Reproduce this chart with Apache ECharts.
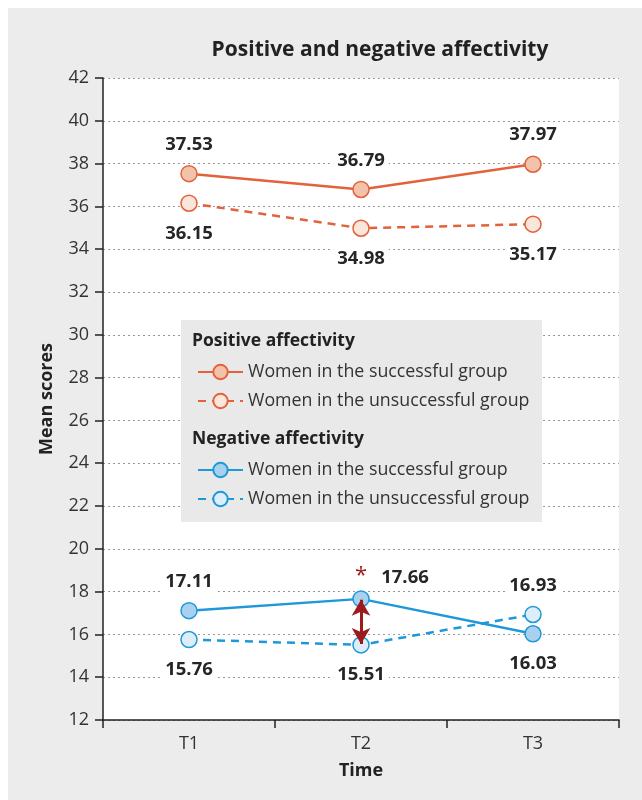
<!DOCTYPE html>
<html>
<head>
<meta charset="UTF-8">
<title>Positive and negative affectivity</title>
<script src="https://cdn.jsdelivr.net/npm/echarts@6/dist/echarts.min.js"></script>
<style>
  body { margin: 0; background: #ffffff; }
  #main { position: absolute; left: 8px; top: 8px; width: 634px; height: 792px; background: #ebeceb; }
</style>
</head>
<body>
<div id="main"></div>
<script>
  // 数据
  var times = ['T1', 'T2', 'T3'];
  var paSuccess = [37.53, 36.79, 37.97];
  var paFail = [36.15, 34.98, 35.17];
  var naSuccess = [17.11, 17.66, 16.03];
  var naFail = [15.76, 15.51, 16.93];
  var yTicks = [12, 42, 2]; // min, max, interval

  var FONT = '"Open Sans", sans-serif';
  var ORANGE = '#e2623b';
  var BLUE = '#1e98d8';
  var DARKRED = '#9c1a1c';
  var legendNames = {
    paS: 'Women in the successful group',
    paF: 'Women in the unsuccessful group',
    naS: 'Women in the successful group',
    naF: 'Women in the unsuccessful group'
  };

  // label position per point: 'top' / 'bottom' / custom offset
  function pts(vals, places) {
    return vals.map(function (v, i) {
      var p = places[i];
      var lab = {};
      if (p === 'top') { lab = { position: 'top', distance: 10 }; }
      else if (p === 'bottom') { lab = { position: 'bottom', distance: 11 }; }
      else { lab = { position: 'inside', offset: p }; }
      return { value: v, label: lab };
    });
  }

  var labelBase = {
    show: true,
    fontFamily: FONT,
    fontSize: 18.5,
    fontWeight: 'bold',
    color: '#262626',
    backgroundColor: '#ffffff',
    padding: [1, 4]
  };

  function lineSeries(name, data, color, fill, dashed) {
    return {
      name: name,
      type: 'line',
      data: data,
      symbol: 'circle',
      symbolSize: 16,
      z: 3,
      lineStyle: { color: color, width: 2.5, type: dashed ? [8, 6] : 'solid' },
      itemStyle: { color: fill, borderColor: color, borderWidth: 1.5 },
      label: labelBase,
      emphasis: { disabled: true }
    };
  }

  var myChart = echarts.init(document.getElementById('main'));

  var legendCommon = {
    orient: 'vertical',
    left: 184,
    itemWidth: 45, itemHeight: 18, itemGap: 11,
    formatter: function (n) { return legendNames[n]; },
    textStyle: { fontFamily: FONT, fontSize: 17.8, color: '#333' },
    selectedMode: false
  };

  var option = {
    animation: false,
    title: {
      text: 'Positive and negative affectivity',
      left: 367,
      top: 27,
      textAlign: 'center',
      textStyle: { fontFamily: FONT, fontSize: 21, fontWeight: 'bold', color: '#222' }
    },
    grid: {
      left: 95, right: 23, top: 70, bottom: 80,
      show: true, backgroundColor: '#ffffff', borderWidth: 0
    },
    legend: [
      Object.assign({}, legendCommon, { data: ['paS', 'paF'], top: 350 }),
      Object.assign({}, legendCommon, { data: ['naS', 'naF'], top: 448 })
    ],
    graphic: [
      { type: 'rect', left: 173, top: 312, z: 1, shape: { width: 361, height: 202 }, style: { fill: '#e8e9e8' } },
      { type: 'text', left: 184, top: 324, z: 2, style: { text: 'Positive affectivity', font: 'bold 17.5px ' + FONT, fill: '#222' } },
      { type: 'text', left: 184, top: 422, z: 2, style: { text: 'Negative affectivity', font: 'bold 17.5px ' + FONT, fill: '#222' } }
    ],
    xAxis: {
      type: 'category',
      data: times,
      boundaryGap: true,
      name: 'Time',
      nameLocation: 'middle',
      nameGap: 42,
      nameTextStyle: { fontFamily: FONT, fontSize: 18, fontWeight: 'bold', color: '#222' },
      axisLine: { lineStyle: { color: '#222', width: 1.5 } },
      axisTick: { show: true, length: 8, lineStyle: { color: '#222', width: 1.5 } },
      axisLabel: { fontFamily: FONT, fontSize: 18, color: '#333', margin: 15 },
      splitLine: { show: false }
    },
    yAxis: {
      type: 'value',
      min: yTicks[0], max: yTicks[1], interval: yTicks[2],
      name: 'Mean scores',
      nameLocation: 'middle',
      nameGap: 47,
      nameTextStyle: { fontFamily: FONT, fontSize: 18, fontWeight: 'bold', color: '#222' },
      axisLine: { show: true, lineStyle: { color: '#222', width: 1.5 } },
      axisTick: { show: true, length: 8, lineStyle: { color: '#222', width: 1.5 } },
      axisLabel: { fontFamily: FONT, fontSize: 18, color: '#333', margin: 14 },
      splitLine: { show: true, lineStyle: { color: '#999', width: 1, type: [2, 3] } }
    },
    series: [
      lineSeries('paS', pts(paSuccess, ['top', 'top', 'top']), ORANGE, '#f2c3aa', false),
      lineSeries('paF', pts(paFail, ['bottom', 'bottom', 'bottom']), ORANGE, '#fbe6dc', true),
      (function () {
        var s = lineSeries('naS', pts(naSuccess, ['top', [44, -21], 'bottom']), BLUE, '#a8d0ef', false);
        s.markLine = {
          silent: true,
          symbol: ['arrow', 'arrow'],
          symbolSize: [14, 16],
          label: { show: false },
          lineStyle: { color: DARKRED, width: 3, type: 'solid' },
          z: 5,
          data: [[{ coord: ['T2', 17.62] }, { coord: ['T2', 15.55] }]]
        };
        s.markPoint = {
          silent: true,
          symbol: 'circle',
          symbolSize: 1,
          itemStyle: { color: 'transparent' },
          label: { show: true, position: 'inside', formatter: '*', fontFamily: FONT, fontSize: 22, color: DARKRED, backgroundColor: 'transparent' },
          data: [{ coord: ['T2', 18.75] }]
        };
        return s;
      })(),
      lineSeries('naF', pts(naFail, ['bottom', 'bottom', 'top']), BLUE, '#ddedf9', true)
    ]
  };

  myChart.setOption(option);
</script>
</body>
</html>
